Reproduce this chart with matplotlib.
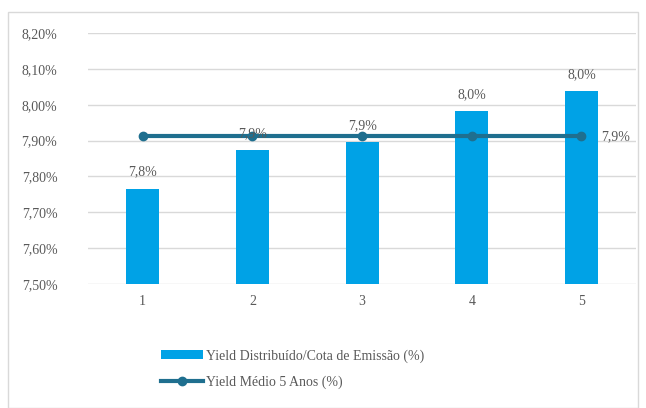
import matplotlib.pyplot as plt
import numpy as np
from matplotlib.patches import Rectangle
from matplotlib.ticker import FuncFormatter

plt.rcParams['font.family'] = ['Liberation Serif', 'DejaVu Serif']

categories = ['1', '2', '3', '4', '5']
yield_dist = [7.766, 7.873, 7.895, 7.982, 8.038]
yield_medio = [7.912, 7.912, 7.912, 7.912, 7.912]
bar_labels = ['7,8%', '7,9%', '7,9%', '8,0%', '8,0%']

bar_color = '#00A2E6'
line_color = '#1F6F8F'
text_color = '#595959'

fig = plt.figure(figsize=(6.46, 4.08), dpi=100)
fig.patches.append(Rectangle((0.013, 0.0), 0.975, 0.97, transform=fig.transFigure,
                             fill=False, edgecolor='#D9D9D9', linewidth=1))
ax = fig.add_axes([0.136, 0.304, 0.849, 0.615])

x = np.arange(len(categories))
bars = ax.bar(x, np.array(yield_dist) - 7.5, bottom=7.5, width=0.3, color=bar_color,
              zorder=2)
line, = ax.plot(x, yield_medio, color=line_color, linewidth=3, marker='o', markersize=6,
                zorder=3)

for xi, yi, lab in zip(x, yield_dist, bar_labels):
    ax.text(xi, yi + 0.028, lab, ha='center', va='bottom', fontsize=10, color=text_color)
ax.text(x[-1] + 0.18, yield_medio[-1], '7,9%', ha='left', va='center', fontsize=10,
        color=text_color)

ax.set_xlim(-0.5, 4.5)
ax.set_ylim(7.5, 8.2)
ax.set_yticks(np.arange(7.5, 8.21, 0.1))
ax.yaxis.set_major_formatter(FuncFormatter(lambda v, p: f'{v:.2f}%'.replace('.', ',')))
ax.set_xticks(x)
ax.set_xticklabels(categories)
ax.grid(axis='y', color='#D9D9D9', linewidth=1, zorder=0)
for s in ax.spines.values():
    s.set_visible(False)
ax.tick_params(length=0, labelsize=10, colors=text_color, pad=8)
ax.tick_params(axis='y', pad=22)

fig.legend([bars, line], ['Yield Distribuído/Cota de Emissão (%)', 'Yield Médio 5 Anos (%)'],
           loc='upper left', bbox_to_anchor=(0.23, 0.175), frameon=False, fontsize=10,
           labelcolor=text_color, handlelength=3, handletextpad=0.2, labelspacing=0.9)

fig.savefig('out.png', dpi=100)
